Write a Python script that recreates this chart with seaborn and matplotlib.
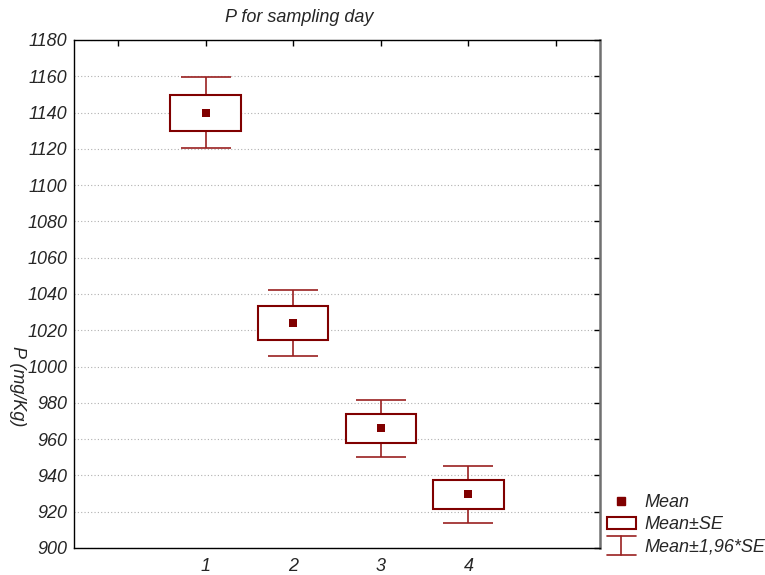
import matplotlib
matplotlib.use("Agg")
import matplotlib.pyplot as plt
import seaborn as sns
import pandas as pd
import numpy as np
from matplotlib.lines import Line2D
from matplotlib.patches import Rectangle
from matplotlib.legend_handler import HandlerBase

days = [1, 2, 3, 4]
means = [1139.8, 1024.0, 966.1, 929.7]
se = [10.0, 9.4, 8.0, 8.0]
yticks = list(range(900, 1181, 20))
xtick_labels = ["", "1", "2", "3", "4", ""]

sns.set_style("white")
plt.rcParams['font.family'] = ['Liberation Sans', 'DejaVu Sans']
plt.rcParams['font.style'] = 'italic'

RED = '#800000'
WRED = '#9a2020'
FS = 13

fig = plt.figure(figsize=(7.65, 5.75), dpi=100)
ax = fig.add_axes([74/765, 1-548/575, (600-74)/765, (548-40)/575])

df = pd.DataFrame({"day": days, "mean": means, "se": se})
df["lo"] = df["mean"] - df["se"]
df["w"] = 2 * df["se"]

ax.errorbar(df["day"], df["mean"], yerr=1.96 * df["se"], fmt='none',
            ecolor=WRED, elinewidth=1.2, capsize=18, capthick=1.2, zorder=2)
ax.bar(df["day"], df["w"], bottom=df["lo"], width=0.8, facecolor='white',
       edgecolor=RED, linewidth=1.5, zorder=3)
sns.scatterplot(data=df, x="day", y="mean", marker='s', s=34, color=RED,
                edgecolor=RED, linewidth=0, zorder=4, ax=ax, legend=False)

ax.set_xlim(-0.5, 5.5)
ax.set_ylim(900, 1180)
ax.set_yticks(yticks)
ax.set_yticklabels([str(t) for t in yticks], fontsize=FS, style='italic')
ax.set_xticks(range(6))
ax.set_xticklabels(xtick_labels, fontsize=FS, style='italic')
ax.set_xlabel("")
ax.set_ylabel("")
ax.tick_params(axis='both', direction='in', length=4, width=1, color='black',
               top=True, right=True, pad=5)
ax.tick_params(axis='x', pad=7)
ax.yaxis.grid(True, linestyle=(0, (1, 2)), color='#b0b0b0', linewidth=0.8)
ax.xaxis.grid(False)
ax.set_axisbelow(True)
for s in ['left', 'bottom', 'top']:
    ax.spines[s].set_color('black')
    ax.spines[s].set_linewidth(1.0)
ax.spines['right'].set_color('#707070')
ax.spines['right'].set_linewidth(1.8)

fig.text(299/765, 1-17/575, "P for sampling day", ha='center', va='center',
         fontsize=FS, style='italic')
fig.text(17/765, 1-386/575, "P (mg/Kg)", ha='center', va='center',
         rotation=270, fontsize=FS, style='italic')


class WhiskerHandler(HandlerBase):
    def create_artists(self, legend, orig_handle, xdescent, ydescent, width,
                       height, fontsize, trans):
        x0, x1 = -xdescent, -xdescent + width
        xm = (x0 + x1) / 2
        yb, yt = -ydescent - 2, -ydescent + height + 2
        l1 = Line2D([x0, x1], [yt, yt], color=WRED, lw=1.2, transform=trans)
        l2 = Line2D([x0, x1], [yb, yb], color=WRED, lw=1.2, transform=trans)
        l3 = Line2D([xm, xm], [yb, yt], color=WRED, lw=1.2, transform=trans)
        return [l1, l2, l3]


class BoxHandler(HandlerBase):
    def create_artists(self, legend, orig_handle, xdescent, ydescent, width,
                       height, fontsize, trans):
        r = Rectangle((-xdescent, -ydescent), width, height,
                      facecolor='white', edgecolor=RED, lw=1.5, transform=trans)
        return [r]


mean_h = Line2D([], [], marker='s', color=RED, linestyle='none', markersize=6)
box_h = Rectangle((0, 0), 1, 1)
wh_h = Line2D([], [])

fig.legend([mean_h, box_h, wh_h], ["Mean", "Mean±SE", "Mean±1,96*SE"],
           handler_map={box_h: BoxHandler(), wh_h: WhiskerHandler()},
           loc='upper left', bbox_to_anchor=(607/765, 1-494/575),
           frameon=False, fontsize=FS, handlelength=1.6, handletextpad=0.5,
           labelspacing=0.3, borderpad=0, borderaxespad=0)

fig.savefig("out.png", dpi=100)
